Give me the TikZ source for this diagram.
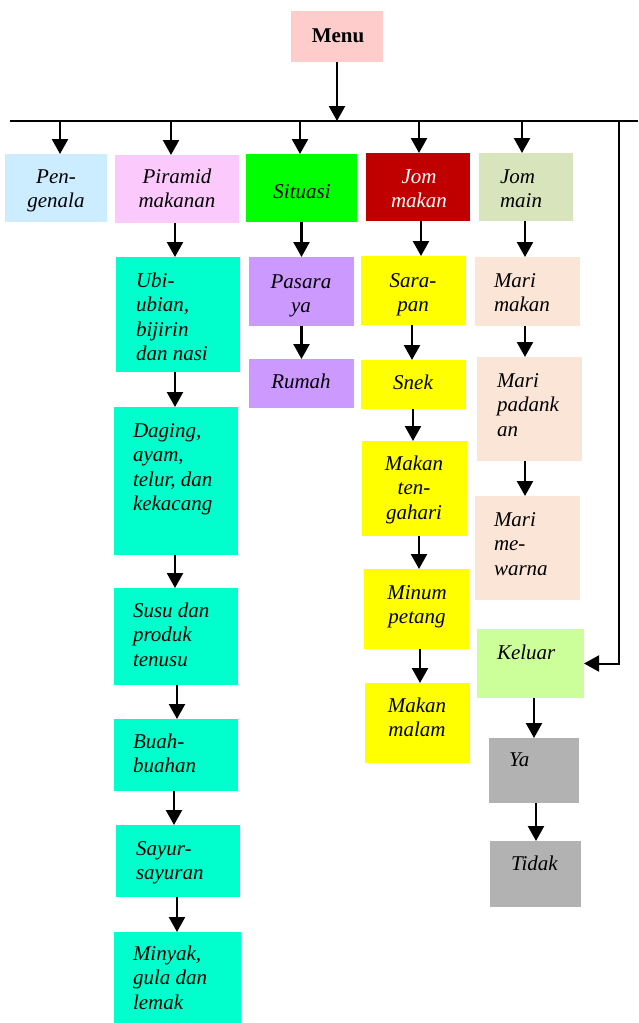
\documentclass[tikz,border=0pt]{standalone}
\usepackage{fontspec}
\setmainfont{Liberation Serif}
\usetikzlibrary{arrows.meta}
\definecolor{cMenu}{HTML}{FFCCCC}
\definecolor{cPeng}{HTML}{CCECFF}
\definecolor{cPira}{HTML}{FBC9FB}
\definecolor{cSitu}{HTML}{00FF00}
\definecolor{cJomM}{HTML}{C00000}
\definecolor{cJomN}{HTML}{D8E4BC}
\definecolor{cGreen}{HTML}{00FFCC}
\definecolor{cPurp}{HTML}{CC99FF}
\definecolor{cYel}{HTML}{FFFF00}
\definecolor{cPeach}{HTML}{FBE5D6}
\definecolor{cKel}{HTML}{CCFF99}
\definecolor{cGray}{HTML}{B2B2B2}
\newcommand\bx[6]{\node[box,fill=#6,minimum width={(#4-#2)*1pt},minimum height={(#5-#3)*1pt}] (#1) at ({(#2+#4)/2},{(#3+#5)/2}) {};}
\newcommand\lt[1]{\begin{tabular}[t]{@{}l@{}}#1\end{tabular}}
\newcommand\ct[1]{\begin{tabular}[t]{@{}c@{}}#1\end{tabular}}
\tikzset{
  box/.style={rectangle,draw=none,inner sep=0pt,outer sep=0pt},
  txt/.style={inner sep=0pt,outer sep=0pt,font=\itshape\fontsize{21}{24.5}\selectfont},
  arr/.style={line width=2.3pt,-{Triangle[length=15pt,width=16pt]}},
  ln/.style={line width=2.3pt},
}
\begin{document}
\begin{tikzpicture}[x=1pt,y=-1pt]
\useasboundingbox (0,0) rectangle (638,1023);
% boxes
\bx{menu}{291}{11}{383}{62}{cMenu}
\bx{peng}{5}{154}{107}{222}{cPeng}
\bx{pira}{115}{155}{239}{223}{cPira}
\bx{situ}{246}{154}{357}{222}{cSitu}
\bx{jomm}{366}{153}{470}{221}{cJomM}
\bx{jomn}{479}{153}{573}{221}{cJomN}
\bx{ubi}{116}{257}{240}{372}{cGreen}
\bx{dag}{114}{407}{238}{555}{cGreen}
\bx{susu}{114}{588}{238}{685}{cGreen}
\bx{buah}{114}{719}{238}{791}{cGreen}
\bx{sayur}{116}{825}{240}{897}{cGreen}
\bx{minyak}{114}{932}{241}{1023}{cGreen}
\bx{pasar}{249}{257}{354}{326}{cPurp}
\bx{rumah}{249}{359}{354}{408}{cPurp}
\bx{sarap}{361}{256}{466}{325}{cYel}
\bx{snek}{361}{360}{466}{409}{cYel}
\bx{tengah}{362}{441}{467}{536}{cYel}
\bx{minum}{364}{569}{469}{649}{cYel}
\bx{malam}{365}{683}{470}{763}{cYel}
\bx{mmakan}{475}{257}{580}{326}{cPeach}
\bx{mpadan}{477}{357}{582}{461}{cPeach}
\bx{mwarna}{475}{496}{580}{600}{cPeach}
\bx{keluar}{477}{629}{584}{698}{cKel}
\bx{ya}{489}{738}{579}{803}{cGray}
\bx{tidak}{490}{841}{581}{907}{cGray}
% texts
\node[txt,anchor=base,font=\bfseries\fontsize{21}{24.5}\selectfont] (menu-t) at (338,42) {Menu};
\node[txt,anchor=base] (peng-t) at (56,183) {\ct{Pen-\\genala}};
\node[txt,anchor=base] (pira-t) at (177,183) {\ct{Piramid\\makanan}};
\node[txt,anchor=base] (situ-t) at (302,198) {Situasi};
\node[txt,anchor=base,text=white] (jomm-t) at (419,183) {\ct{Jom\\makan}};
\node[txt,anchor=base west] (jomn-t) at (500,183) {\lt{Jom\\main}};
\node[txt,anchor=base west] (ubi-t) at (136,287) {\lt{Ubi-\\ubian,\\bijirin\\dan nasi}};
\node[txt,anchor=base west] (dag-t) at (133,437) {\lt{Daging,\\ayam,\\telur, dan\\kekacang}};
\node[txt,anchor=base west] (susu-t) at (133,617) {\lt{Susu dan\\produk\\tenusu}};
\node[txt,anchor=base west] (buah-t) at (133,748) {\lt{Buah-\\buahan}};
\node[txt,anchor=base west] (sayur-t) at (136,855) {\lt{Sayur-\\sayuran}};
\node[txt,anchor=base west] (minyak-t) at (133,960) {\lt{Minyak,\\gula dan\\lemak}};
\node[txt,anchor=base] (pasar-t) at (301,288) {\ct{Pasara\\ya}};
\node[txt,anchor=base] (rumah-t) at (301,388) {Rumah};
\node[txt,anchor=base] (sarap-t) at (413,287) {\ct{Sara-\\pan}};
\node[txt,anchor=base] (snek-t) at (413,389) {Snek};
\node[txt,anchor=base] (tengah-t) at (414,470) {\ct{Makan\\ten-\\gahari}};
\node[txt,anchor=base] (minum-t) at (417,599) {\ct{Minum\\petang}};
\node[txt,anchor=base] (malam-t) at (417,712) {\ct{Makan\\malam}};
\node[txt,anchor=base west] (mmakan-t) at (494,287) {\lt{Mari\\makan}};
\node[txt,anchor=base west] (mpadan-t) at (497,387) {\lt{Mari\\padank\\an}};
\node[txt,anchor=base west] (mwarna-t) at (494,526) {\lt{Mari\\me-\\warna}};
\node[txt,anchor=base west] (keluar-t) at (497,659) {Keluar};
\node[txt,anchor=base west] (ya-t) at (509,766) {Ya};
\node[txt,anchor=base west] (tidak-t) at (511,870) {Tidak};
% connectors
\coordinate (hl) at (10,121);
\coordinate (hr) at (638,121);
\coordinate (rt) at (619,121);
\draw[ln] (hl) -- (hr);
\draw[arr] (menu.south) -- (menu.south |- hl);
\draw[arr] ([xshift=4pt]peng.north |- hl) -- ([xshift=4pt]peng.north);
\draw[arr] ([xshift=-6pt]pira.north |- hl) -- ([xshift=-6pt]pira.north);
\draw[arr] ([xshift=-1.5pt]situ.north |- hl) -- ([xshift=-1.5pt]situ.north);
\draw[arr] ([xshift=1pt]jomm.north |- hl) -- ([xshift=1pt]jomm.north);
\draw[arr] ([xshift=-4pt]jomn.north |- hl) -- ([xshift=-4pt]jomn.north);
\draw[arr] ([xshift=-2pt]pira.south) -- ([xshift=-2pt]pira.south |- ubi.north);
\draw[arr] ([xshift=-3pt]ubi.south) -- ([xshift=-3pt]ubi.south |- dag.north);
\draw[arr] ([xshift=-1pt]dag.south) -- ([xshift=-1pt]dag.south |- susu.north);
\draw[arr] ([xshift=1pt]susu.south) -- ([xshift=1pt]susu.south |- buah.north);
\draw[arr] ([xshift=-2pt]buah.south) -- ([xshift=-2pt]buah.south |- sayur.north);
\draw[arr] ([xshift=-1pt]sayur.south) -- ([xshift=-1pt]sayur.south |- minyak.north);
\draw[arr] (situ.south) -- (situ.south |- pasar.north);
\draw[arr] (pasar.south) -- (pasar.south |- rumah.north);
\draw[arr] ([xshift=3pt]jomm.south) -- ([xshift=3pt]jomm.south |- sarap.north);
\draw[arr] ([xshift=-1.5pt]sarap.south) -- ([xshift=-1.5pt]sarap.south |- snek.north);
\draw[arr] ([xshift=-0.5pt]snek.south) -- ([xshift=-0.5pt]snek.south |- tengah.north);
\draw[arr] ([xshift=4.5pt]tengah.south) -- ([xshift=4.5pt]tengah.south |- minum.north);
\draw[arr] ([xshift=3.5pt]minum.south) -- ([xshift=3.5pt]minum.south |- malam.north);
\draw[arr] ([xshift=-1pt]jomn.south) -- ([xshift=-1pt]jomn.south |- mmakan.north);
\draw[arr] ([xshift=-2.5pt]mmakan.south) -- ([xshift=-2.5pt]mmakan.south |- mpadan.north);
\draw[arr] ([xshift=-4.5pt]mpadan.south) -- ([xshift=-4.5pt]mpadan.south |- mwarna.north);
\draw[arr] ([xshift=3.5pt]keluar.south) -- ([xshift=3.5pt]keluar.south |- ya.north);
\draw[arr] ([xshift=2pt]ya.south) -- ([xshift=2pt]ya.south |- tidak.north);
\draw[arr,line width=2pt] (rt) -- (rt |- keluar.east) -- (keluar.east);
\end{tikzpicture}
\end{document}
